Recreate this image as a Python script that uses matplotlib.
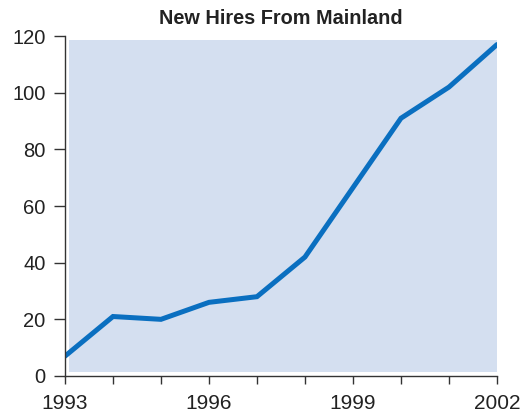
import numpy as np
import matplotlib
matplotlib.use('Agg')
import matplotlib.pyplot as plt
from matplotlib.patches import Rectangle

plt.rcParams['font.family'] = ['Liberation Sans', 'DejaVu Sans']

years = [1993, 1994, 1995, 1996, 1997, 1998, 1999, 2000, 2001, 2002]
hires = [7, 21, 20, 26, 28, 42, 66.5, 91, 102, 117]
tick_labels = ['1993', '', '', '1996', '', '', '1999', '', '', '2002']

fig = plt.figure(figsize=(5.22, 4.15), dpi=100)
ax = fig.add_axes([0.1245, 0.094, 0.8275, 0.819])
ax.set_xlim(1993, 2002)
ax.set_ylim(0, 120)
ax.patch.set_visible(False)

# shaded plot background, slightly inset from the axis lines
ax.add_patch(Rectangle((1993.08, 1.4), 2002 - 1993.08, 118.6 - 1.4,
                       facecolor='#d4dff0', edgecolor='none', zorder=0))

ax.plot(years, hires, color='#0a6fc0', lw=3.6, solid_capstyle='round',
        solid_joinstyle='miter', zorder=2)

ax.set_xticks(years)
ax.set_xticklabels(tick_labels)
ax.set_yticks(np.arange(0, 121, 20))
for s in ['top', 'right']:
    ax.spines[s].set_visible(False)
for s in ['left', 'bottom']:
    ax.spines[s].set_color('#333333')
    ax.spines[s].set_linewidth(1.0)
ax.tick_params(direction='out', width=1.0, color='#333333',
               labelcolor='#222222')
ax.tick_params(axis='x', length=6, pad=7, labelsize=15)
ax.tick_params(axis='y', length=8, pad=6, labelsize=14.5)

ax.set_title('New Hires From Mainland', fontsize=14.3, fontweight='bold',
             color='#222222', pad=9)

fig.savefig('out.png', dpi=100)
